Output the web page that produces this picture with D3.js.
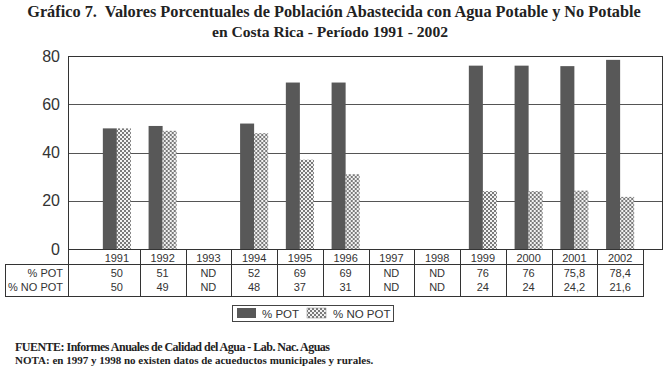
<!DOCTYPE html>
<html><head><meta charset="utf-8">
<script src="https://cdn.jsdelivr.net/npm/d3@7"></script>
<style>
html,body{margin:0;padding:0;background:#fff;}
svg{display:block;}
</style></head>
<body>
<script>
const years = ["1991","1992","1993","1994","1995","1996","1997","1998","1999","2000","2001","2002"];
const potValues = [50,51,null,52,69,69,null,null,76,76,75.8,78.4];
const noPotValues = [50,49,null,48,37,31,null,null,24,24,24.2,21.6];
const seriesNames = ["% POT","% NO POT"];
const yTicks = [0,20,40,60,80];
const titleLines = ["Gráfico 7.  Valores Porcentuales de Población Abastecida con Agua Potable y No Potable",
                    "en Costa Rica - Período 1991 - 2002"];
const sourceText = "FUENTE: Informes Anuales de Calidad del Agua - Lab. Nac. Aguas";
const noteText = "NOTA: en 1997 y 1998 no existen datos de acueductos municipales y rurales.";

const W = 672, H = 370;
const svg = d3.select("body").append("svg").attr("width", W).attr("height", H);

const defs = svg.append("defs");
const pat = defs.append("pattern").attr("id","checker").attr("patternUnits","userSpaceOnUse")
  .attr("width",4).attr("height",4);
pat.append("rect").attr("width",4).attr("height",4).attr("fill","#f2f2f2");
pat.append("rect").attr("x",0).attr("y",0).attr("width",2).attr("height",2).attr("fill","#7a7a7a");
pat.append("rect").attr("x",2).attr("y",2).attr("width",2).attr("height",2).attr("fill","#7a7a7a");

const colors = ["#585858","url(#checker)"];

const plotL = 68, plotR = 663, plotT = 56, plotB = 249;
const y = d3.scaleLinear().domain([0,80]).range([plotB, plotT]);
const x = d3.scaleBand().domain(years).range([94, 643]).padding(0);
const x1 = d3.scaleBand().domain(seriesNames).range([0, x.bandwidth()]).paddingOuter(0.63).paddingInner(0);

// title
svg.append("g").selectAll("text").data(titleLines).join("text")
  .attr("x", (d,i)=> i===0 ? 334 : 330).attr("y",(d,i)=>17 + i*20)
  .attr("text-anchor","middle")
  .attr("xml:space","preserve").style("white-space","pre")
  .attr("font-family","Liberation Serif, Times New Roman, serif")
  .attr("font-weight","bold").attr("font-size",(d,i)=> i===0 ? 16.3 : 15.6).attr("fill","#222")
  .text(d=>d);

// gridlines
svg.append("g").selectAll("line").data(yTicks.filter(t=>t>0 && t<80)).join("line")
  .attr("x1",plotL).attr("x2",plotR).attr("y1",d=>Math.round(y(d))+0.5).attr("y2",d=>Math.round(y(d))+0.5)
  .attr("stroke","#555").attr("stroke-width",1);

// y axis labels
const yAxis = d3.axisLeft(y).tickValues(yTicks).tickSize(0).tickPadding(8);
const gy = svg.append("g").attr("transform",`translate(${plotL},0)`).call(yAxis);
gy.select(".domain").remove();
gy.selectAll("text").attr("font-family","Liberation Sans, Arial, sans-serif")
  .attr("font-size",16).attr("fill","#333");

// bars
const data = years.map((yr,i)=>({year:yr, vals:[potValues[i], noPotValues[i]]}));
const grp = svg.append("g").selectAll("g").data(data).join("g")
  .attr("transform",d=>`translate(${x(d.year)},0)`);
grp.selectAll("rect").data(d=>d.vals.map((v,k)=>({k,v})).filter(e=>e.v!==null)).join("rect")
  .attr("x",e=>x1(seriesNames[e.k])).attr("width",x1.bandwidth())
  .attr("y",e=>y(e.v)).attr("height",e=>y(0)-y(e.v))
  .attr("fill",e=>colors[e.k]);

// plot frame
svg.append("rect").attr("x",plotL+0.5).attr("y",plotT+0.5).attr("width",plotR-plotL-1).attr("height",plotB-plotT)
  .attr("fill","none").attr("stroke","#333").attr("stroke-width",1);

// data table
const tHeadT = plotB, tHeadB = 264, tBot = 296;
const tLeft = 5, tRight = x.range()[1];
const tg = svg.append("g").attr("stroke","#333").attr("stroke-width",1).attr("fill","none");
tg.append("line").attr("x1",plotL).attr("x2",tRight).attr("y1",tHeadB+0.5).attr("y2",tHeadB+0.5);
tg.append("rect").attr("x",tLeft+0.5).attr("y",tHeadB+0.5).attr("width",tRight-tLeft).attr("height",tBot-tHeadB);
tg.append("line").attr("x1",plotL+0.5).attr("x2",plotL+0.5).attr("y1",plotB).attr("y2",tBot);
const edges = years.slice(1).map(d=>x(d)).concat([tRight]);
tg.selectAll("line.v").data(edges).join("line").attr("class","v")
  .attr("x1",d=>Math.round(d)+0.5).attr("x2",d=>Math.round(d)+0.5).attr("y1",tHeadT).attr("y2",tBot);

const fmt = v => v===null ? "ND" : String(v).replace(".", ",");
const tt = svg.append("g").attr("font-family","Liberation Sans, Arial, sans-serif")
  .attr("font-size",11).attr("fill","#333").attr("text-anchor","middle");
tt.selectAll("text.yr").data(years).join("text").attr("class","yr")
  .attr("x",d=>x(d)+x.bandwidth()/2).attr("y",262).text(d=>d);
tt.selectAll("text.p").data(potValues).join("text").attr("class","p")
  .attr("x",(d,i)=>x(years[i])+x.bandwidth()/2).attr("y",277).text(fmt);
tt.selectAll("text.n").data(noPotValues).join("text").attr("class","n")
  .attr("x",(d,i)=>x(years[i])+x.bandwidth()/2).attr("y",291).text(fmt);
tt.selectAll("text.lab").data(seriesNames).join("text").attr("class","lab")
  .attr("x",63).attr("y",(d,i)=>277+i*14).attr("text-anchor","end").text(d=>d);

// legend
const lg = svg.append("g");
lg.append("rect").attr("x",232.5).attr("y",305.5).attr("width",161).attr("height",16)
  .attr("fill","#fff").attr("stroke","#444");
const legX = [237, 307], legTX = [262, 333];
seriesNames.forEach((s,i)=>{
  lg.append("rect").attr("x",legX[i]).attr("y",308).attr("width",19).attr("height",10)
    .attr("fill",colors[i]).attr("stroke", i===1 ? "#888" : "none").attr("stroke-width",0.5);
  lg.append("text").attr("x",legTX[i]).attr("y",318)
    .attr("font-family","Liberation Sans, Arial, sans-serif").attr("font-size",11.5).attr("fill","#333")
    .text(s);
});

// footnotes
const fn = svg.append("g").attr("font-family","Liberation Serif, Times New Roman, serif")
  .attr("font-weight","bold").attr("fill","#222");
fn.append("text").attr("x",15).attr("y",351).attr("font-size",12)
  .attr("textLength",315).attr("lengthAdjust","spacing").text(sourceText);
fn.append("text").attr("x",15).attr("y",364).attr("font-size",11).text(noteText);
</script>
</body></html>
